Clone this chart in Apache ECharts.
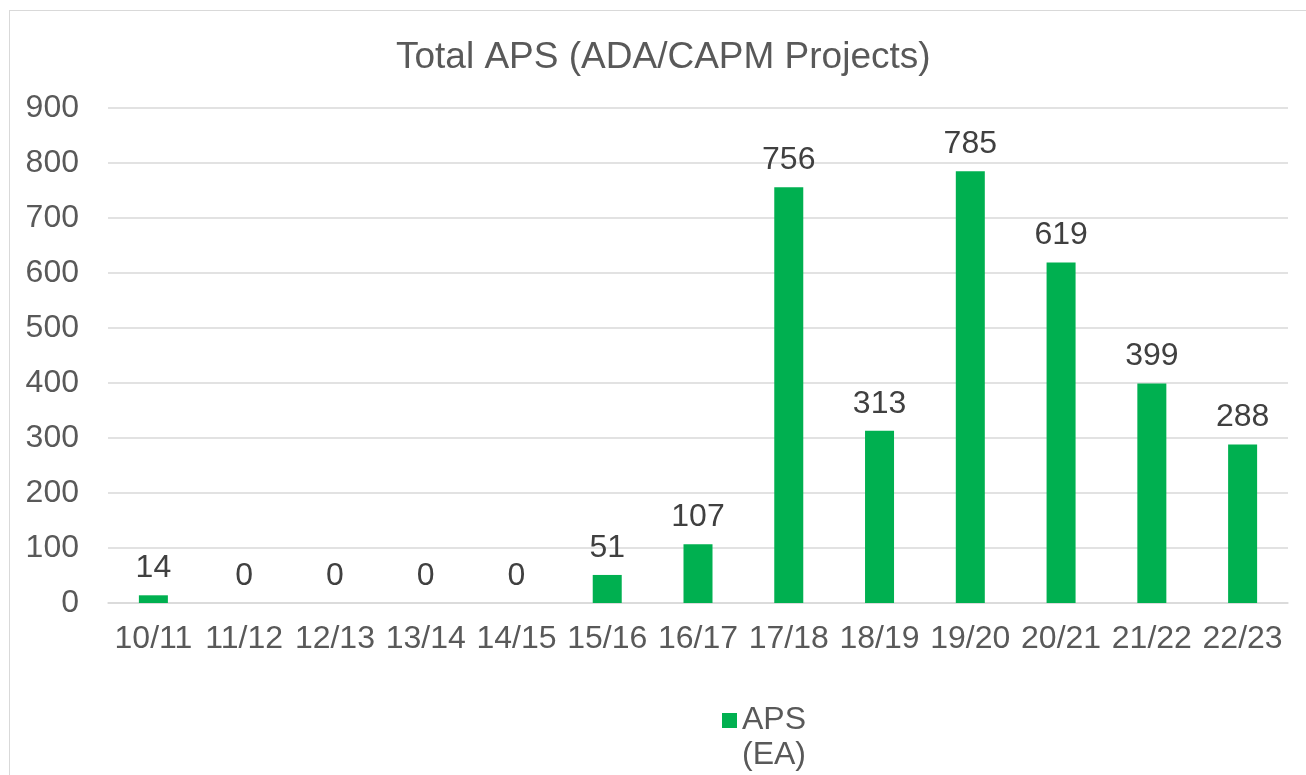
<!DOCTYPE html>
<html><head><meta charset="utf-8">
<script src="https://cdn.jsdelivr.net/npm/echarts@6/dist/echarts.min.js"></script>
<style>
html,body{margin:0;padding:0;background:#fff;}
#frame{position:absolute;left:9px;top:10px;width:1400px;height:900px;border:1px solid #d9d9d9;box-sizing:border-box;}
#c{position:absolute;left:0;top:0;width:1306px;height:775px;}
</style></head>
<body><div id="frame"></div><div id="c"></div>
<script>
const categories = ['10/11','11/12','12/13','13/14','14/15','15/16','16/17','17/18','18/19','19/20','20/21','21/22','22/23'];
const apsValues = [14,0,0,0,0,51,107,756,313,785,619,399,288];
const yTicks = {min:0, max:900, interval:100};
const seriesName = 'APS (EA)';
const titleText = 'Total APS (ADA/CAPM Projects)';

const chart = echarts.init(document.getElementById('c'));
chart.setOption({
  animation:false,
  textStyle:{fontFamily:'Liberation Sans, Arial, sans-serif'},
  title:{text:titleText,left:391,top:34,padding:[5,5,5,5],textStyle:{fontSize:37,fontWeight:'normal',color:'#595959',fontFamily:'Liberation Sans, Arial, sans-serif'}},
  grid:{left:108,right:18,top:108,bottom:172,containLabel:false},
  xAxis:{type:'category',data:categories,
    axisLine:{lineStyle:{color:'#d9d9d9',width:1.5}},axisTick:{show:false},
    axisLabel:{color:'#595959',fontSize:32,margin:20,interval:0}},
  yAxis:{type:'value',min:yTicks.min,max:yTicks.max,interval:yTicks.interval,
    axisLine:{show:false},axisTick:{show:false},
    splitLine:{lineStyle:{color:'#d9d9d9',width:1.5}},
    axisLabel:{color:'#595959',fontSize:32,margin:29}},
  legend:{show:true,left:717,top:663,orient:'vertical',itemWidth:15,itemHeight:15,itemGap:5,
    icon:'rect',
    formatter:n=>'\u00a0\n'+n.replace(' ','\n'),
    textStyle:{color:'#595959',fontSize:32,lineHeight:35}},
  series:[{name:seriesName,type:'bar',data:apsValues,barWidth:29,
    itemStyle:{color:'#00B050'},
    label:{show:true,position:'top',distance:11,color:'#404040',fontSize:32}}]
});
</script></body></html>
